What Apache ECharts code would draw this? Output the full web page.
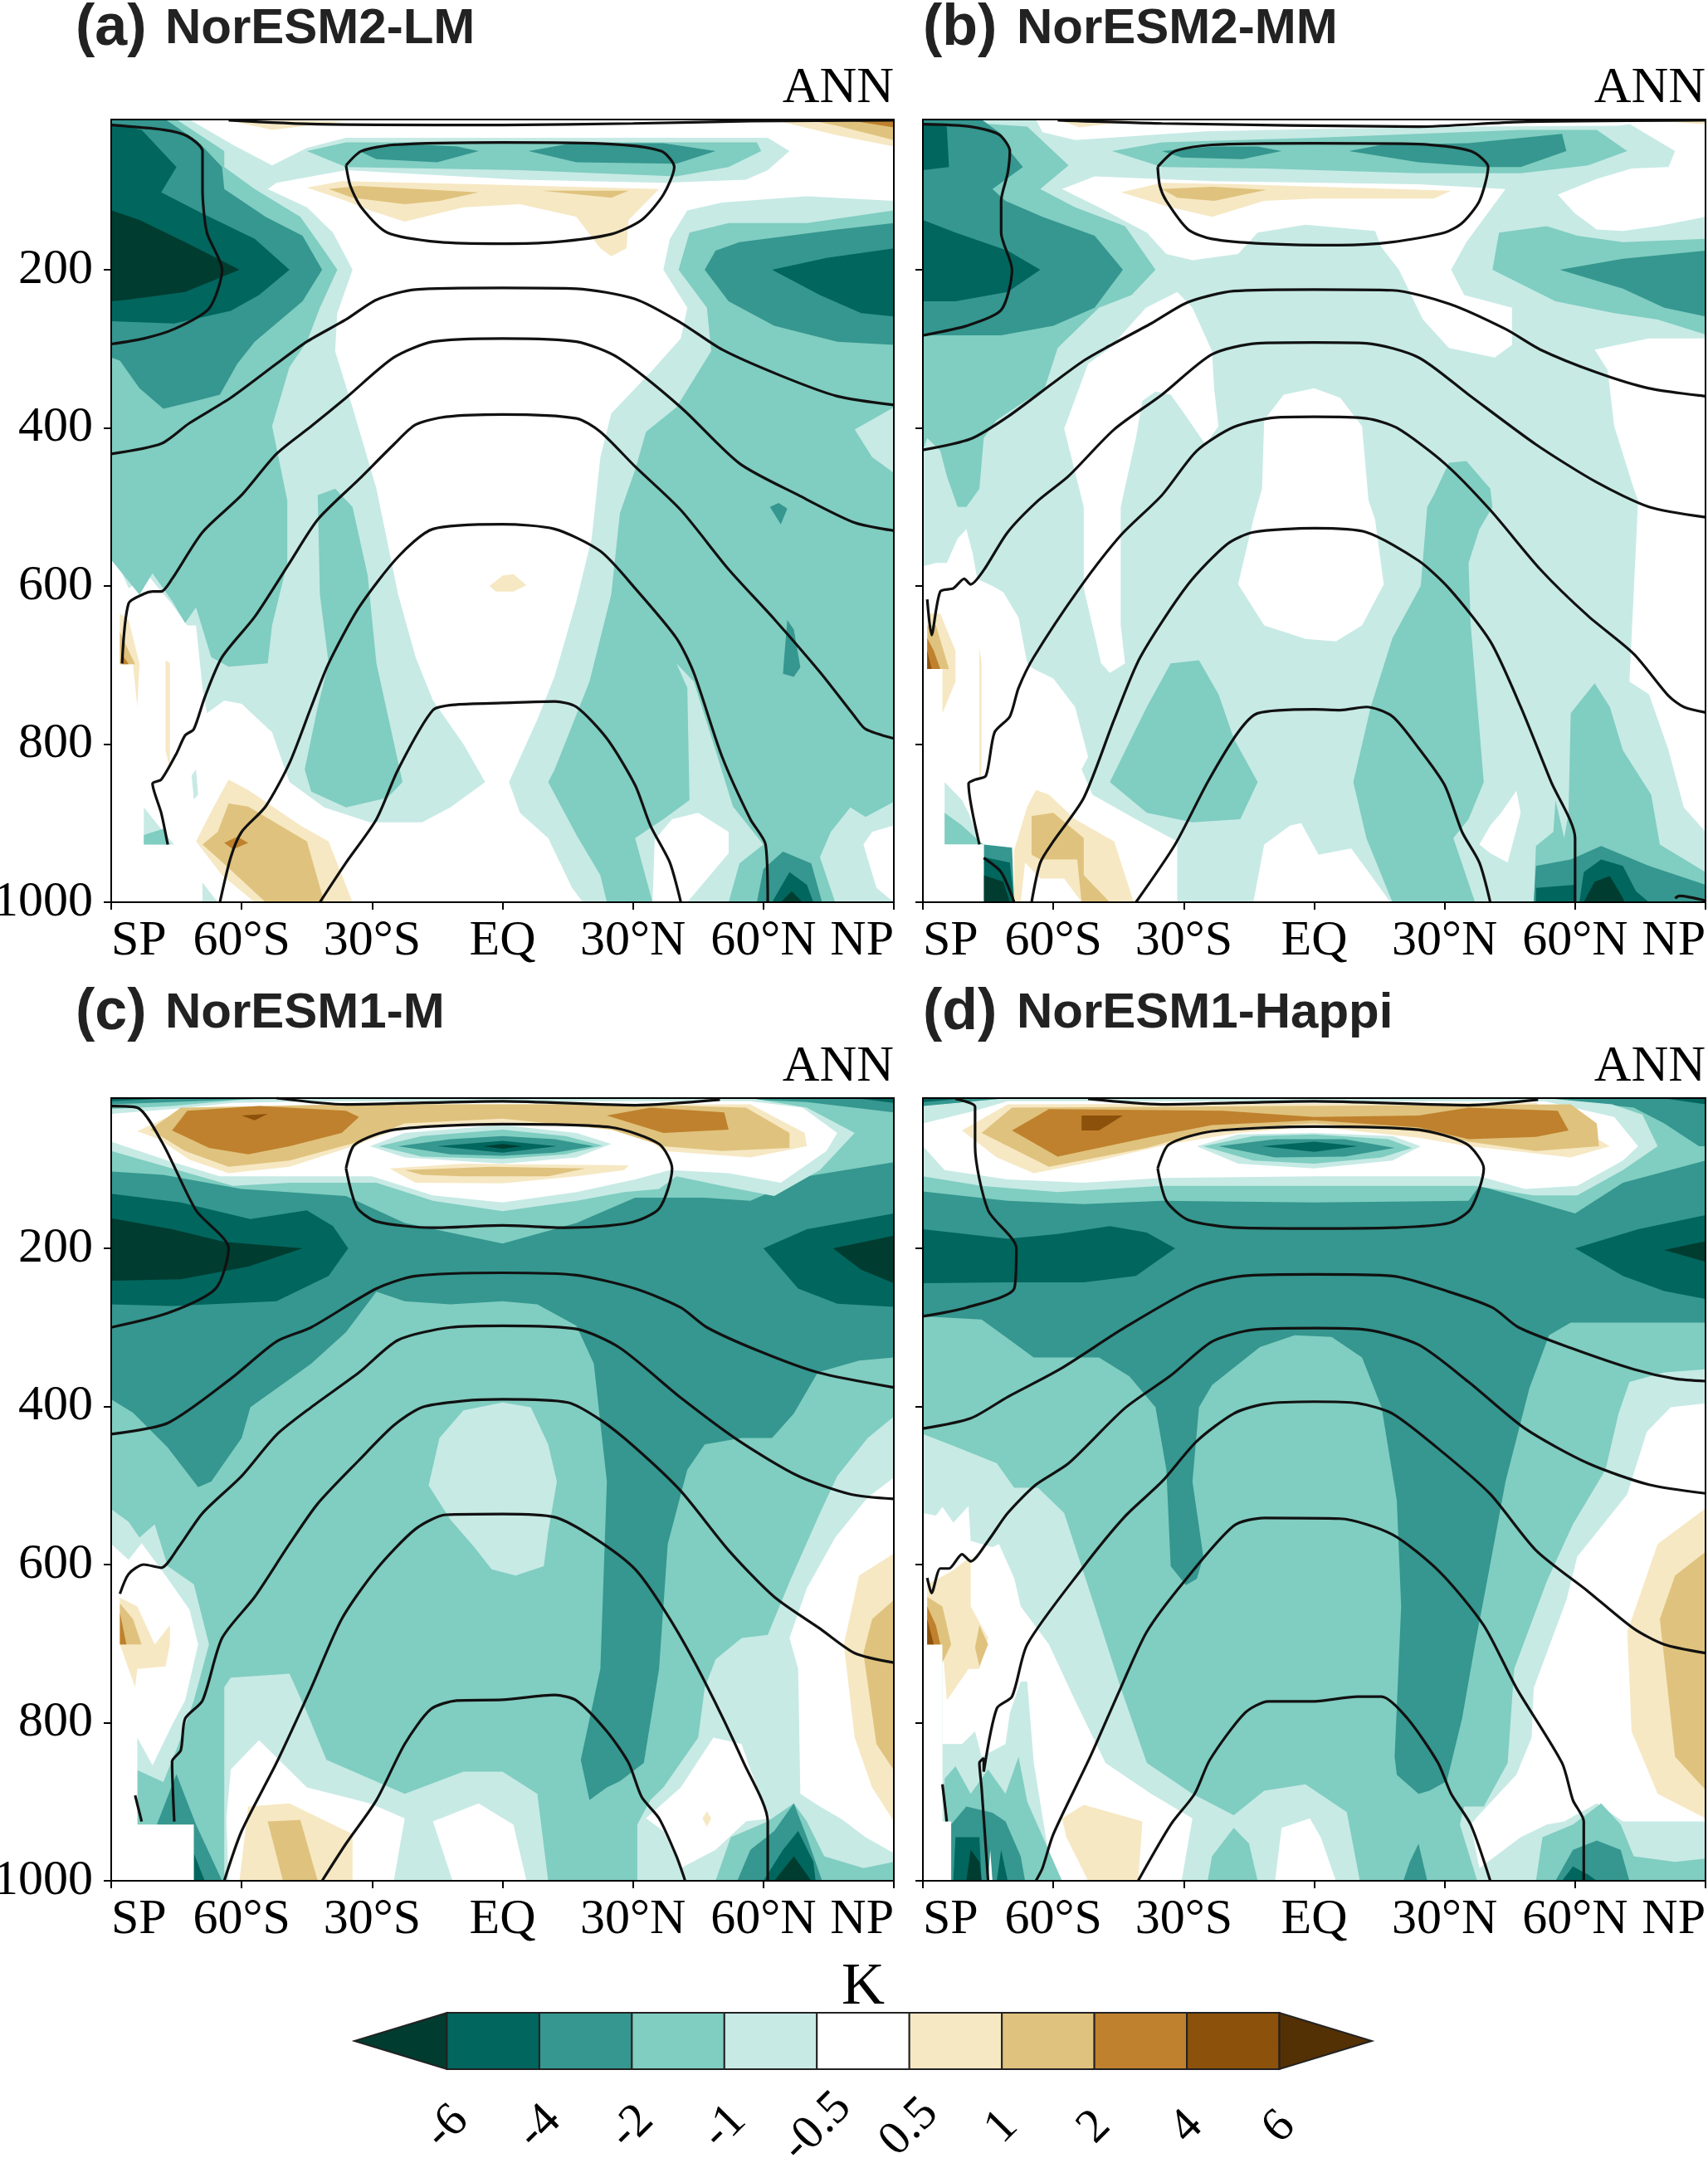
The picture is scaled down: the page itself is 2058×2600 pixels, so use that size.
<!DOCTYPE html>
<html><head><meta charset="utf-8">
<script src="https://cdn.jsdelivr.net/npm/echarts@6/dist/echarts.min.js"></script>
<style>html,body{margin:0;padding:0;background:#fff}#c{width:2058px;height:2600px}</style></head>
<body><div id="c"></div>
<script>
const latLabels = {'-90':'SP','-60':'60°S','-30':'30°S','0':'EQ','30':'30°N','60':'60°N','90':'NP'};
const pressureTicks = [200,400,600,800,1000];
const barTickLabels = ['-6','-4','-2','-1','-0.5','0.5','1','2','4','6'];
const barColours = ['#003c30','#01665e','#35978f','#80cdc1','#c7eae5','#ffffff','#f6e8c3','#dfc27d','#bf812d','#8c510a','#543005'];
const barBands = [-7,-5,-3,-1.5,-0.75,0,0.75,1.5,3,5,7];
const panelNames = ['NorESM2-LM','NorESM2-MM','NorESM1-M','NorESM1-Happi'];
const panelTags = ['(a)','(b)','(c)','(d)'];

const bandsA = [
[-0.75,[-90,10,-72,10,-62,42,-53,68,-45,46,-36,33,4,33,50.5,33,61,33,66,50,61,74,56,86,37,90,4,86,-36,74,-52,90,-54,98,-45,121,-39,153,-34.5,200,-38,255,-38.5,303,-34.5,374,-29,477,-24,611,-20,690,-16,745,-9,800,-4,848,-12,880,-18.5,899,-30.5,899,-41,880,-49,848,-53,785,-60,749,-64,745,-68,761,-69,729,-70.5,650,-72.5,650,-76,623,-81.5,587,-86,603,-88.5,571,-90,567]],
[-0.75,[90,113,70,107,50.5,115,42.5,125,38.5,161,37,200,42.5,248,41,287,34.5,327,25,382,22.5,437,20.5,540,17,619,12,714,8,769,1.5,848,4,887,10.5,919,16,982,18.5,1000,34.5,1000,35,921,39,895,45,887,52,911,52,938,42.5,1000,90,1000,86,982,83,927,85,911,90,903]],
[-0.75,[-82.5,927,-82.5,880,-78,911,-75.5,927]],
[-0.75,[-71.5,840,-70.5,832,-70,864,-71,870]],
[-0.75,[-69,975,-65.5,1000,-69,1000]],
[-1.5,[-82.5,927,-82.5,915,-78,907,-76.5,927]],
[-1.5,[-90,10,-75,10,-64,50,-64,70,-57,98,-46.5,133,-41,176,-38,200,-42,248,-45,291,-49,323,-53,398,-49.5,492,-49.5,571,-53,650,-54,698,-63,702,-67,690,-70.5,627,-73,647,-76,619,-80.5,584,-83.5,611,-90,567]],
[-1.5,[-42.5,485,-38.5,477,-34.5,500,-31,587,-29,698,-23,848,-26.5,868,-36,880,-44,860,-45.5,832,-42.5,753,-40,698,-42,611]],
[-1.5,[-45,50,-36,39,58.5,39,59.5,50,52,70,40,82,4,74,-36,70]],
[-1.5,[90,125,70,141,52,141,43,153,40.5,200,47,248,48,303,40,374,33,405,30.5,453,27,508,25,611,20,721,12,832,10.5,848,17,915,22.5,966,24,1000,34.5,1000,30.5,919,37,895,43,871,42.5,729,40,698,44,721,49,808,53,879,60,927,54.5,951,52,1000,76.5,1000,73,943,75.5,911,80,880,83.5,892,90,873]],
[-0.75,[90,374,81,402,85,437,90,457]],
[-3,[-33,50,-25,40,-10.5,44,-5.5,50,-15,64,-29,60]],
[-3,[6,50,16,40,37,40,49,50,40,66,17,64]],
[-3,[-90,10,-77.5,10,-70,38,-64.5,70,-64,98,-54.5,133,-46,157,-41.5,200,-46,240,-57,291,-61,319,-65,358,-70.5,366,-78,376,-83.5,350,-88,315,-90,311]],
[-3,[90,141,77,149,54.5,165,49,176,46.5,200,52,240,62.5,271,77,291,90,295]],
[-3,[61.5,500,63.5,495,65.5,502,64,522]],
[-3,[65.5,643,67,655,68.5,703,67,715,64.5,711,65,676]],
[-3,[58.5,1000,60,958,64.5,936,71,951,73.5,1000]],
[-5,[-90,15,-83,23,-75,70,-78.5,102,-69,129,-57,161,-49,200,-56,232,-62.5,252,-75.5,268,-90,265]],
[-5,[90,173,74.5,185,62,200,73,232,82.5,255,90,259]],
[-5,[62,1000,66,962,70,978,71.5,1000]],
[-7,[-90,125,-83.5,137,-73,165,-60.5,200,-73,228,-86.5,238,-90,240]],
[-7,[64,1000,66.5,986,69,1000]],
[0.75,[-45,96,-37,88,-5.5,92,36,98,29,137,28.5,173,25,183,22.5,173,17,133,4,117,-9,121,-22.5,139,-30.5,125,-36,113]],
[1.5,[-40,98,-33,94,-5.5,102,-14.5,113,-22.5,117,-34.5,109]],
[1.5,[9,100,29,100,25,109]],
[0.75,[-3,600,0,587,2.5,585,5.5,599,2.5,607,-1.5,607]],
[0.75,[-63,845,-58.5,858,-46.5,903,-40,923,-34.5,1000,-57,1000,-64.5,966,-70.5,923,-66.5,880]],
[1.5,[-63,875,-58.5,879,-45,923,-41,1000,-54.5,1000,-63.5,954,-69,927,-65.5,911]],
[3,[-64,925,-61,917,-58.5,925,-62,933]],
[0.75,[-88,635,-86,643,-83.5,698,-84,753,-85,699,-88,699]],
[1.5,[-88,658,-86,682,-84.5,699,-88,699]],
[3,[-87.5,686,-86,699,-87.5,699]],
[0.75,[-77.5,694,-76.5,698,-76.5,832,-77.5,808]],
[0.75,[62,10,77,30,90,44,90,10]],
[1.5,[70,10,77,18,90,36,90,10]],
[3,[81,12,90,20,90,10]],
[0.75,[-63,11,-53,23,-36,12]]
];
const contoursA = [
[-36,68,-32.5,50,-25,42,0,39,25,41,36.5,50,39.5,70,37,105,32,137,25,155,12,165,0,167,-14.5,165,-26.5,153,-32.5,121,-35,94,-36,68],
[-63,11,-42.5,16,0,17,30,15,57,12,90,11],
[-90,17,-78,23,-72.5,31,-69,50,-69,98,-68,153,-64.5,200,-67.5,249,-75.5,275,-82.5,287,-90,294],
[-90,433,-78.5,420,-72,394,-62.5,362,-52,319,-45,291,-36,263,-29,238,-20,225,0,223,17,224,30.5,237,41,267,50.5,301,64,334,77,360,90,371],
[-87.5,698,-86,622,-82.5,610,-80.5,607,-78.5,607,-76,591,-69,532,-60,485,-52,433,-44,398,-36,362,-25,311,-16,291,0,287,17,291,26.5,311,41,374,54.5,445,68,485,81,520,90,530],
[-77,927,-78.5,887,-80.5,850,-78.5,845,-75,812,-73,789,-71,781,-68.5,741,-64.5,690,-57,639,-49,571,-42.5,516,-33,465,-25,421,-20,396,-13,386,0,383,17,388,22.5,405,30.5,449,41,504,52,579,62.5,642,73,709,81,765,83.5,781,90,793],
[-65,1000,-62.5,943,-60,911,-54.5,879,-49,824,-44,753,-40,698,-33,627,-24,563,-16,528,0,522,12,528,22.5,556,30.5,603,40,666,44,710,50.5,816,57,895,60.5,927,61,1000],
[-42,1000,-36,950,-29,895,-24,832,-16,757,-10.5,750,0,748,12,746,17,753,24,793,30.5,852,34,903,38.5,950,41,1000]
];

const bandsB = [
[-0.75,[-90,10,90,10,90,1000,-90,1000]],
[0,[-64,10,-62.5,26,-55,36,-25,25,0,22,35.5,19,70,18,80,10]],
[0,[72,14,83,50,81.5,70,73,72,65,85,56,105,60,129,65,149,71,151,79,145,90,133,90,10]],
[0,[-58,98,-50.5,82,-23.5,88,24,92,44,98,35,165,31.5,200,34.5,232,45.5,248,45.5,295,41.5,311,31,299,25,263,19.5,200,15.5,172,14,151,-2,143,-13,153,-17.5,180,-28,188,-34,180,-38.5,153,-49.5,121]],
[0,[-38.7,248,-31.5,228,-28,248,-23.5,303,-23,351,-22,398,-25,421,-30,381,-33,358,-36.5,354,-39.5,366,-41,413,-44.5,500,-44.5,650,-43.5,698,-47,710,-49,698,-53,603,-53,500,-57.5,401,-52,319,-47,299]],
[0,[-11.5,390,-7,358,0,350,6,362,11,398,12.5,492,14,516,16,598,11,650,5,670,-2,667,-11.5,650,-17.5,598,-14,516,-12,477]],
[0,[-90,575,-87,571,-84.5,571,-82,540,-80,528,-78.5,560,-77.5,591,-74,600,-71.5,608,-68,640,-66,698,-64.5,705,-60,717,-55,753,-52,816,-53.5,832,-51,864,-41,895,-31.5,923,-31.5,1000,-90,1000]],
[0,[-14,1000,-11.5,927,-5.5,903,-3,900,1,940,8.5,932,12,958,17.5,1000]],
[0,[38,927,40.5,903,43,887,46.5,859,47.5,887,44.5,950,40.5,938]],
[0,[64.5,301,67.5,327,69,398,73.5,477,74.5,492,72.5,721,77,737,81.5,808,85,880,90,911,90,287,77,287]],
[-0.75,[-85,848,-81,871,-79.5,887,-77,923,-76,927,-85,927]],
[-1.5,[-85,927,-85,887,-81,903,-77,923,-76,927]],
[-1.5,[-90,10,-66,19,-56.5,68,-63,98,-55,121,-43.5,145,-36.5,200,-42,232,-49.5,248,-59,299,-62,350,-73,390,-76,413,-77,477,-80,500,-82,500,-84.5,461,-86,429,-89,413,-90,429]],
[-1.5,[42.5,153,53.5,145,60.5,157,71,165,90,161,90,282,79,263,69,255,55.5,240,41,200]],
[-1.5,[-46.5,50,-35,39,0,33,47.5,23,65,23,72,50,63,68,47.5,78,24,78,-11.5,72,-35,70]],
[-1.5,[31,444,35,442,40.5,477,41,500,38,528,35.5,571,36,650,39,848,35.5,895,32,919,37,1000,18,1000,12,919,9,848,13,753,18,666,24.5,600,26,500,27.5,485]],
[-1.5,[-47,848,-38.5,753,-33,698,-26.5,694,-22,737,-18.5,793,-13,848,-17,895,-28,899,-38.5,887]],
[-1.5,[59,761,64.5,723,68,753,71,808,77.5,864,79.5,927,90,962,90,1000,50.5,1000,51,929,55,911,55.5,871,57.5,919,58.5,887]],
[-3,[-35,50,-23.5,44,-13,44,-7.5,50,-16.5,60,-30.5,58]],
[-3,[8,50,15.5,42,35.5,40,57,28,58,50,47.5,70,39,70,24,64]],
[-3,[-90,10,-76.5,10,-72,28,-70,50,-67,70,-74,98,-71,113,-62.5,133,-50.5,157,-44,200,-50.5,248,-60,271,-72,283,-90,283]],
[-3,[56.5,200,71,186,90,176,90,259,80.5,248,71,224]],
[-3,[50.5,1000,51,954,59,946,66,929,77,954,90,978,90,1000]],
[-3,[-76,927,-69.5,931,-69,1000,-76,1000]],
[-5,[-90,137,-82.5,153,-70.5,176,-63,200,-70.5,228,-82.5,240,-90,240]],
[-5,[-90,15,-84.5,19,-84,70,-90,74]],
[-5,[61,1000,62,962,66,946,71,954,74,986,77,1000]],
[-5,[51,982,60,978,60,1000,51,1000]],
[-5,[-76,943,-70,950,-69,1000,-76,1000]],
[-7,[-76,966,-71.5,974,-70,1000,-76,1000]],
[-7,[62,1000,64.5,974,68,967,70.5,990,71.5,1000]],
[0,[-90,705,-85.5,705,-85.5,927,-76,927,-76,1000,-90,1000]],
[0.75,[-69,1000,-69,934,-66,879,-64,858,-61,864,-55,895,-46,923,-41.5,1000]],
[1.5,[-65,891,-60,887,-53,919,-53,966,-47,1000,-53.5,1000,-54.5,946,-63,946,-65,940]],
[0,[-67.5,1000,-66.5,950,-63,970,-57.5,970,-53.5,1000]],
[0.75,[-89,635,-86,635,-82.5,682,-82.5,721,-85.5,761,-85.5,705,-89,705]],
[1.5,[-89,650,-87,650,-84,705,-89,705]],
[3,[-89,666,-87.5,682,-86,705,-89,705]],
[5,[-89,682,-88,705,-89,705]],
[0.75,[-77,678,-76.5,698,-76.5,832,-77,848]],
[0.75,[-44.5,102,-35,90,-17.5,92,31.5,100,27.5,110,0,110,-11.5,113,-23.5,133,-33,121]],
[1.5,[-35,98,-23.5,95,-11,99,-23,113,-31.5,109]],
[0.75,[-59,10,-54,20,-45,14,-40,12]],
[0.75,[73,10,80,12,90,16,90,10]]
];
const contoursB = [
[-36,70,-32,50,-23.5,42,0,40,24,41,36,50,40,70,38,113,34,141,30,153,18,165,6,169,-11.5,167,-23.5,161,-29,149,-34,113,-35.5,94,-36,70],
[-59,11,-35,15,24,19,47.5,13,90,11],
[-90,16,-79,19,-72.5,29,-70,50,-70.5,78,-72,113,-72,153,-69.5,200,-72,251,-80,271,-90,283],
[-90,428,-79,414,-70.5,386,-60,343,-53,315,-48,299,-37.5,268,-29,241,-18.5,227,0,225,18,226,31,243,44,275,52,301,65,330,77,350,90,360],
[-89,617,-88,662,-86,607,-83,603,-80.5,591,-79,598,-76,580,-70.5,532,-63.5,492,-56.5,461,-46,402,-35,358,-23.5,307,-13,293,0,292,12,293,24,311,35.5,358,51,421,65,469,77,500,90,513],
[-77,927,-79.5,850,-78,845,-75.5,840,-73.5,785,-70,765,-68,729,-64.5,690,-54,603,-44.5,536,-35,485,-27,429,-18.5,399,-9,387,0,386,12,388,19,400,30,445,40.5,504,52,579,63,638,73.5,686,81.5,739,85,753,90,760],
[-65,1000,-63,950,-60,923,-53,868,-46,769,-40,690,-29,598,-20,547,-14,532,0,527,12,532,24,568,31,603,40.5,670,47.5,753,54.5,848,60,919,60,1000],
[-41,1000,-32,927,-24.5,848,-17.5,785,-13,761,0,756,6,757,12,753,18,765,24,805,30,852,34,911,38,950,40.5,1000],
[-76,944,-72,962,-69,1000],
[83,995,84,992,90,998]
];

const bandsC = [
[-1.5,[-90,10,90,10,90,1000,-90,1000]],
[-3,[-90,103,-78,107,-60,125,-36,134,-22.5,168,0,194,17,168,30.5,136,46.5,136,57,140,70,109,90,91,90,338,82,342,72.5,357,67,409,62,440,55,440,46.5,448,42.5,480,38,574,36,732,32.5,851,27,874,24,882,20,898,18,847,22.5,732,24,495,21,346,17,298,8,271,0,267,-12,271,-22.5,267,-29,255,-36,306,-44,346,-58,401,-60,440,-67,495,-70,502,-77,452,-85,408,-90,391]],
[-5,[-90,131,-74,142,-58,163,-45,152,-39,172,-35.5,200,-40,235,-52,267,-76,273,-90,271]],
[-5,[60,200,70,176,90,156,90,274,77,270,68,251]],
[-7,[-90,162,-76,176,-64,192,-46,200,-58.5,223,-74,239,-90,241]],
[-7,[76,200,90,184,90,244,82.5,227]],
[-3,[50,10,70,15,90,28,90,10]],
[-5,[81,10,90,16,90,10]],
[-0.75,[-90,24,-76,20,-60,12,-40,10,57,10,70,22,81,54,73,101,62.5,134,50.5,121,40,109,36,125,28,129,17,140,0,153,-16,140,-29,117,-49,117,-62,121,-76,99,-90,77]],
[0,[-90,30,-76,24,-62,16,-40,14,57,14,69,22,77,54,74.5,77,64,117,52,105,38.5,101,30.5,113,17,129,0,142,-16,133,-30,109,-49,109,-65,109,-77,89,-90,65]],
[-3,[-90,10,-52,10,-76,15,-90,18]],
[-5,[-90,10,-76,10,-90,14]],
[0.75,[-84,52,-74,26,-36,18,30.5,18,57,18,69.5,54,70,71,57,85,37,77,30.5,50,0,41,-22.5,46,-34,70,-49,97,-63,105,-72,88,-79,62]],
[1.5,[-81,50,-74,22,-36,18,30.5,18,56,22,66,54,66,73,50.5,77,37,71,25,50,0,36,-22.5,42,-33,65,-49,89,-63,97,-73,77]],
[3,[-76,51,-72.5,26,-56,20,-36,26,-33,34,-37,54,-49,71,-58.5,81,-67.5,73]],
[3,[24,32,34,22,51,28,52,50,37,54]],
[5,[-60,32,-54,30,-57,38]],
[-0.75,[-30.5,71,-22.5,54,0,44,17,54,25,68,17,85,0,93,-22.5,85]],
[-1.5,[-28.5,71,-18.5,58,0,50,14.5,58,23,70,14.5,81,0,87,-18.5,84]],
[-3,[-24,71,-12,62,0,58,12,62,21,71,12,79,0,83,-12,81]],
[-5,[-15,71,0,64,12.5,71,0,79]],
[-7,[-4.5,71,0,68,4.5,71,0,74]],
[0.75,[-26,99,-9,93,29,95,28,101,17,109,0,118,-20,117]],
[1.5,[-22.5,101,-2.5,97,19,99,10.5,109,-9,109,-18.5,107]],
[-0.75,[-17,500,-14.5,440,-9,405,0,395,6.5,401,10.5,448,12.5,495,10.5,559,9.5,602,3,614,-2.5,606,-6.5,578,-12,543]],
[-0.75,[90,413,84,440,77,488,73,535,66,622,61,689,55,693,49,720,46.5,756,45,819,37,882,34,898,31,929,31,1000,90,1000]],
[0,[90,490,84,515,76.5,566,70,630,66,693,68,732,68.5,890,73,906,78,922,83.5,945,90,965]],
[0,[33,921,41,882,48.5,819,55,827,57,859,61.5,921,56,925,49,961,41,984,37,937]],
[0.75,[90,586,82,614,78.5,701,81,819,85,882,90,925]],
[1.5,[90,645,85,669,83,712,86,827,90,860]],
[0.75,[46,921,47,912,48,921,47,932]],
[-1.5,[49,1000,52.5,945,61,925,67,902,70,925,74,969,83,984,90,976,90,1000]],
[-3,[54,1000,57,961,62.5,937,67,902,70,945,73.5,1000]],
[-5,[60,1000,64.5,961,68,937,71.5,976,72,1000]],
[-7,[62.5,1000,67,969,71,1000]],
[-0.75,[-64,755,-62.5,743,-49,738,-45,787,-40.5,847,-22.5,890,-9,862,0,862,8,890,10.5,1000,-64,1000]],
[0,[-63,1000,-63.5,921,-62.5,859,-56,822,-45,882,-30.5,902,-22.5,921,-25,1000]],
[0,[-16,925,-5.5,902,2.5,929,5.5,1000,-11.5,1000]],
[0.75,[-58.5,906,-49,902,-34.5,941,-34.5,1000,-60.5,1000]],
[1.5,[-54,925,-46.5,923,-42.5,1000,-50.5,1000]],
[-0.75,[-90,530,-86,546,-83.5,566,-80,549,-77,602,-71,625,-67.5,701,-71,772,-74.5,827,-78,875,-84,860,-84,1000,-90,1000]],
[0,[-90,574,-86,594,-83,573,-78,610,-72,657,-70,701,-73,772,-76,803,-80.5,854,-84,819,-84,1000,-90,1000]],
[0.75,[-88,642,-84,653,-80,701,-76.5,677,-76.5,701,-77.5,729,-84,732,-84.5,755,-88,701]],
[1.5,[-88,649,-85,669,-83,701,-88,701]],
[3,[-88,661,-86.5,701,-88,701]],
[-3,[-79.5,929,-75,865,-70.5,929,-64.5,1000,-71,1000]],
[-5,[-71,965,-68.5,1000,-71,1000]],
[0,[-90,929,-71,929,-71,1000,-90,1000]]
];
const contoursC = [
[-36,99,-34,69,-25,50,0,43,25,47,36,68,39,99,36,150,29,168,14.5,174,0,171,-16,174,-29,166,-33.5,148,-36,99],
[-52,10,-36,18,0,14,30.5,19,50,12],
[-90,20,-84,22,-78,69,-70.5,152,-63,200,-66,251,-77,282,-90,300],
[-90,435,-77,421,-62.5,365,-52,318,-44,300,-29,251,-20,235,0,231,17,234,30.5,251,41,275,47,300,59,330,72.5,357,90,376],
[-88,637,-86,612,-82.5,600,-78.5,604,-74.5,578,-69,535,-60,488,-52,436,-44,401,-33,357,-24,316,-12,300,0,298,17,302,27,326,41,389,54.5,444,68,488,80,511,90,517],
[-84.5,892,-83,925],
[-75.5,925,-76,849,-74,835,-73,795,-69,772,-64.5,693,-57,641,-49,574,-42.5,523,-33,468,-25,424,-18.5,401,-9,393,0,391,15,395,22.5,417,30.5,452,41,507,52,582,62.5,641,73,681,81,712,90,724],
[-64,1000,-60,937,-52,851,-44,756,-37,669,-29,606,-20,555,-13,537,0,536,12,540,21,566,30.5,606,38.5,669,46.5,748,55.5,851,61,925,61,1000],
[-41.5,1000,-36,953,-29,898,-22.5,827,-16.5,783,-10.5,772,0,771,12,765,17,772,24,811,29,851,32,894,36,921,40,969,42,1000]
];

const bandsD = [
[-1.5,[-90,10,90,10,90,1000,-90,1000]],
[-3,[-90,128,-70.5,140,-53,144,-35,140,0,142,35.5,140,38,121,60,156,71,117,90,89,90,294,71,294,59,294,54,310,49.5,377,44,495,40,614,37,701,34,795,30.5,874,26.5,886,24,890,19,866,18.5,843,20,653,19,519,15.5,401,11,338,4,312,-4.5,310,-12.5,325,-23.5,373,-26.5,401,-28,495,-25.5,590,-27,618,-29.5,626,-33,602,-34,480,-36.5,401,-42.5,362,-49.5,338,-64.5,338,-70.5,314,-76.5,290,-90,286]],
[-5,[-90,176,-70.5,188,-59,182,-47,172,-38.5,180,-32,200,-41,235,-53,243,-70.5,243,-90,244]],
[-5,[60,200,74.5,176,90,158,90,264,80.5,254,71,235]],
[-7,[80.5,202,90,191,90,217]],
[-3,[53,10,73.5,22,80.5,42,88.5,71,90,71,90,10]],
[-5,[80,10,90,18,90,10]],
[-0.75,[-90,20,-70.5,10,53,10,68.5,18,75.5,31,79,71,71,101,60.5,133,50.5,133,37,121,-35,121,-59,129,-76.5,121,-90,109]],
[0,[-90,42,-78,26,-70.5,14,53,14,69,34,74.5,71,71,89,60.5,121,48.5,125,38,109,0,109,-35,111,-53,117,-70.5,113,-85,101,-90,71]],
[-3,[-90,10,-70.5,10,-90,20]],
[-5,[-90,10,-79,10,-90,15]],
[0.75,[-81,51,-70.5,18,51,16,68,71,59,85,46,77,35.5,71,24,60,0,46,-17.5,54,-34,69,-49.5,89,-64.5,105,-73,85]],
[1.5,[-76.5,54,-69.5,22,59,18,65,42,65.5,71,51,77,35.5,65,24,52,0,42,-23.5,50,-38.5,73,-61,97]],
[3,[-69.5,51,-61,24,-21,26,0,34,24,32,35.5,22,56,26,58.5,51,51,59,35.5,62,24,47,0,38,-23.5,44,-38.5,60,-59,84]],
[5,[-53.5,32,-44,32,-49.5,51,-53.5,51]],
[-0.75,[-27,71,-17.5,56,0,54,18,58,24.5,71,18,89,0,99,-17.5,93]],
[-1.5,[-25.5,71,-14,58,0,56,17,62,22.5,73,15.5,85,0,93,-14,89]],
[-3,[-22,71,-9,62,7,62,18.5,73,7,84,-9,85]],
[-5,[-12,71,0,65,10,71,0,78]],
[-0.75,[90,353,80.5,357,72.5,369,70,409,67,480,59.5,549,53.5,621,50,673,46,732,44.5,851,39,906,34.5,906,33.5,929,37.5,1000,90,1000]],
[0,[90,396,82,401,76.5,432,72,511,60.5,590,58,645,50.5,756,50,819,46.5,866,38,916,36,929,38,984,47.5,945,53.5,929,57.5,925,65,902,71,925,77,925,90,925]],
[0.75,[90,529,79,574,72,685,73,811,79,890,90,921]],
[1.5,[90,584,83,614,79.5,669,83,843,90,885]],
[-1.5,[51,1000,52.5,945,59.5,929,66,902,70.5,929,73.5,969,83,976,90,972,90,1000]],
[-3,[55.5,1000,59.5,961,65,949,70.5,961,72.5,1000]],
[-5,[57,1000,59.5,982,63,992,65,1000]],
[-0.75,[-90,435,-82,452,-73,472,-69,503,-63.5,503,-57.5,535,-50.5,653,-44.5,756,-38.5,851,-28,890,-18.5,917,-11.5,886,-2,878,7.5,913,10.5,1000,-90,1000]],
[0,[-90,535,-87,538,-85.5,527,-83,547,-79.5,526,-79,570,-74,578,-72.5,574,-69,617,-67.5,653,-61,701,-55,772,-48,851,-37.5,890,-28,921,-30.5,1000,-59,1000,-61,969,-64.5,851,-66,748,-67.5,748,-70,788,-71,827,-76.5,843,-78,811,-81,827,-85.5,827,-85.5,701,-90,701]],
[-1.5,[-85,871,-82.5,855,-79,890,-75,859,-71,890,-68,843,-66,900,-62,950,-58,1000,-85,1000]],
[-3,[-83.5,929,-80,906,-74,914,-71,925,-67.5,969,-66.5,1000,-83.5,1000]],
[-5,[-83,1000,-82.5,945,-77,945,-76.5,1000]],
[-7,[-80,1000,-79,961,-77,976,-76.5,1000]],
[0,[-75,1000,-74.5,961,-74,1000]],
[-5,[-73,1000,-72,961,-70.5,1000]],
[0,[-90,701,-85.5,701,-85.5,925,-83.5,925,-83.5,1000,-90,1000]],
[0.75,[-89,625,-83.5,609,-79,590,-79,653,-75,693,-77,732,-79.5,732,-84.5,772,-85.5,701,-89,701]],
[1.5,[-89,641,-85.5,653,-83.5,701,-85.5,724,-85.5,701,-89,701]],
[1.5,[-77,677,-75,701,-77,729,-78,705]],
[3,[-89,653,-87,677,-86,701,-89,701]],
[5,[-89,669,-87.5,701,-89,701]],
[0.75,[-58,921,-53,904,-39.5,925,-40.5,1000,-52,1000,-57,945]],
[-1.5,[-24.5,1000,-23.5,969,-18.5,933,-15,953,-13,1000]],
[0,[-9,1000,-7.5,933,-1,921,1.5,945,5,1000]],
[-3,[20.5,1000,22,976,24,953,26,1000]]
];
const contoursD = [
[-36,99,-33.5,69,-23.5,52,0,46,24,50,35,68,39,99,36,150,31,168,18,174,0,175,-17.5,174,-29,164,-34,140,-36,99],
[-52,11,-35,18,0,14,35.5,19,51.5,12],
[-82.5,11,-78,21,-78,71,-75,152,-68.5,200,-69,251,-80,275,-90,286],
[-90,428,-79,415,-70.5,388,-58.5,353,-43.5,300,-27,249,-16.5,235,0,233,18,235,31,255,41,275,47,300,59,326,73.5,353,83,365,90,368],
[-89,617,-88,636,-86,605,-84,605,-81,587,-79,596,-75,570,-70.5,535,-64,499,-56.5,472,-43.5,402,-33,361,-23.5,318,-14,303,0,301,12,303,24,322,35.5,369,48.5,428,63,472,77,499,90,510],
[-75,1000,-76.5,882,-77,851,-76,845,-76,862,-73,782,-69.5,767,-66,701,-53.5,606,-43.5,539,-35,495,-27,444,-18.5,409,-11.5,397,0,394,10,396,18,409,30,460,40.5,511,51,582,63,634,73.5,681,80.5,701,90,712],
[-64,1000,-62.5,984,-60,941,-51.5,843,-44.5,756,-38.5,685,-30,622,-18.5,551,-11.5,541,6,542,18,562,29,610,39,677,46.5,756,57,851,59.5,898,62,925,62,1000],
[-40.5,1000,-33,929,-27.5,890,-24,847,-16,788,-10.5,773,0,773,10,767,15.5,767,21.5,795,28.5,851,31.5,890,36,929,40.5,1000],
[-85.5,878,-84.5,925]
];

const allBands = [bandsA,bandsB,bandsC,bandsD];
const allContours = [contoursA,contoursB,contoursC,contoursD];
const gridLefts = [134,1112,134,1112];
const gridTops = [144,144,1323,1323];
const tagLefts = [91,1112,91,1112];
const nameLefts = [199,1225,199,1225];
const titleYs = [35,35,1221,1221];
const PANEL = 943;

function colourOf(v){ return barColours[barBands.indexOf(v)]; }
function pairs(f){ const o=[]; for(let i=0;i<f.length;i+=2) o.push([f[i],f[i+1]]); return o; }

const grids=[],xAxes=[],yAxes=[],series=[],graphics=[];
panelNames.forEach((name,i)=>{
  grids.push({left:gridLefts[i],top:gridTops[i],width:PANEL,height:PANEL,outerBoundsMode:'none'});
  xAxes.push({type:'value',gridIndex:i,min:-90,max:90,interval:30,splitLine:{show:false},
    axisLine:{onZero:false,lineStyle:{color:'#000',width:2}},
    axisTick:{length:9,lineStyle:{color:'#000',width:2}},
    axisLabel:{margin:17,fontFamily:'Liberation Serif',fontSize:60,color:'#000',
      alignMinLabel:'left',alignMaxLabel:'right',hideOverlap:false,showMinLabel:true,showMaxLabel:true,
      formatter:v=>latLabels[String(v)]||''}});
  yAxes.push({type:'value',gridIndex:i,min:10,max:1000,inverse:true,splitLine:{show:false},
    axisLine:{onZero:false,lineStyle:{color:'#000',width:2}},
    axisTick:{length:9,customValues:pressureTicks,lineStyle:{color:'#000',width:2}},
    axisLabel:{show:i%2===0,margin:22,customValues:pressureTicks,fontFamily:'Liberation Serif',fontSize:60,color:'#000',formatter:v=>String(v)}});
  const bands=allBands[i];
  series.push({type:'custom',xAxisIndex:i,yAxisIndex:i,coordinateSystem:'cartesian2d',clip:true,z:2,silent:true,
    data:bands.map((b,k)=>[k]),encode:{x:-1,y:-1},
    renderItem:(p,api)=>{
      const b=bands[api.value(0)];
      return {type:'polygon',shape:{points:pairs(b[1]).map(c=>api.coord(c))},style:{fill:colourOf(b[0])}};
    }});
  allContours[i].forEach((c,k)=>series.push({type:'line',xAxisIndex:i,yAxisIndex:i,z:3,silent:true,
    data:pairs(c),showSymbol:false,smooth:0.25,clip:true,lineStyle:{color:'#111',width:3.2}}));
  series.push({type:'custom',xAxisIndex:i,yAxisIndex:i,coordinateSystem:'cartesian2d',clip:false,z:4,silent:true,
    data:[[0]],encode:{x:-1,y:-1},
    renderItem:(p,api)=>{
      const a=api.coord([-90,10]),b=api.coord([90,1000]);
      return {type:'rect',shape:{x:a[0],y:a[1],width:b[0]-a[0],height:b[1]-a[1]},style:{fill:null,stroke:'#000',lineWidth:2}};
    }});
  graphics.push({type:'text',x:tagLefts[i],y:titleYs[i],style:{text:panelTags[i],font:'bold 70px "Liberation Sans"',fill:'#222',verticalAlign:'middle'}});
  graphics.push({type:'text',x:nameLefts[i],y:titleYs[i],style:{text:name,font:'bold 60px "Liberation Sans"',fill:'#222',verticalAlign:'middle'}});
  graphics.push({type:'text',x:gridLefts[i]+PANEL,y:gridTops[i]-37,style:{text:'ANN',font:'62px "Liberation Serif"',fill:'#000',align:'right',verticalAlign:'middle'}});
});
// colour bar
const B=4;
grids.push({left:427,top:2425,width:1226,height:68,outerBoundsMode:'none'});
xAxes.push({type:'value',gridIndex:B,min:-1,max:10,interval:1,splitLine:{show:false},axisLine:{show:false},axisTick:{show:false},
  axisLabel:{margin:70,rotate:45,align:'center',verticalAlign:'middle',fontFamily:'Liberation Serif',fontSize:58,color:'#000',
    showMinLabel:true,showMaxLabel:true,formatter:v=>barTickLabels[v]||''}});
yAxes.push({type:'value',gridIndex:B,min:0,max:1,show:false});
series.push({type:'custom',xAxisIndex:B,yAxisIndex:B,coordinateSystem:'cartesian2d',clip:false,silent:true,
  data:barColours.map((c,k)=>[k]),encode:{x:-1,y:-1},
  renderItem:(p,api)=>{
    const k=api.value(0),x0=k-1,x1=k;
    let pts;
    if(k===0) pts=[[x1,0],[x1,1],[x0,0.5]];
    else if(k===barColours.length-1) pts=[[x0,0],[x0,1],[x1,0.5]];
    else pts=[[x0,0],[x1,0],[x1,1],[x0,1]];
    return {type:'polygon',shape:{points:pts.map(c=>api.coord(c))},style:{fill:barColours[k],stroke:'#222',lineWidth:2}};
  }});
graphics.push({type:'text',x:1040,y:2395,style:{text:'K',font:'72px "Liberation Serif"',fill:'#000',align:'center',verticalAlign:'middle'}});

const chart=echarts.init(document.getElementById('c'),null,{renderer:'canvas',width:2058,height:2600});
chart.setOption({animation:false,backgroundColor:'#fff',grid:grids,xAxis:xAxes,yAxis:yAxes,series:series,graphic:graphics});
</script></body></html>
